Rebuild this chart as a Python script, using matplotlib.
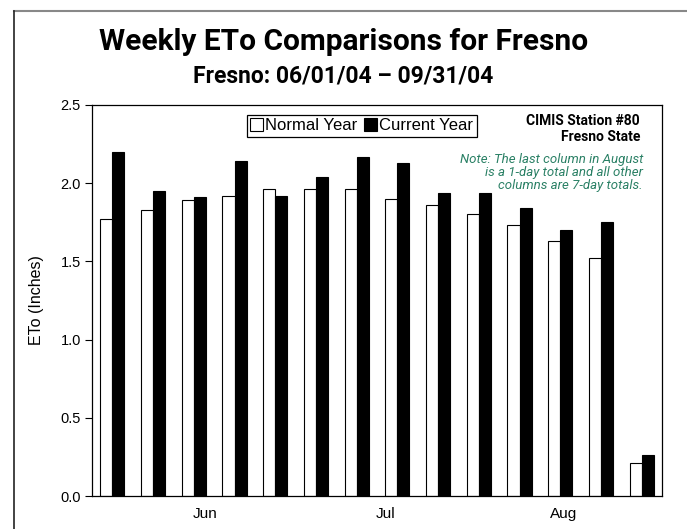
import matplotlib
matplotlib.use("Agg")
import matplotlib.pyplot as plt
import numpy as np
from matplotlib.lines import Line2D
from matplotlib.patches import Patch

# weekly ETo totals (inches), 06/01/04 onward; last column is a 1-day total
normal_year = [1.77, 1.83, 1.89, 1.92, 1.96, 1.96, 1.96, 1.90, 1.86, 1.80, 1.73, 1.63, 1.52, 0.21]
current_year = [2.20, 1.95, 1.91, 2.14, 1.92, 2.04, 2.17, 2.13, 1.94, 1.94, 1.84, 1.70, 1.75, 0.26]
month_labels = ["Jun", "Jul", "Aug"]
month_pos = [2.28, 6.71, 11.09]

cond = ["Roboto", "DejaVu Sans"]
plt.rcParams["font.family"] = ["Liberation Sans", "DejaVu Sans"]

fig = plt.figure(figsize=(6.87, 5.29), dpi=100)
ax = fig.add_axes([92 / 687, 1 - 496 / 529, 570 / 687, 391 / 529])

x = np.arange(len(normal_year))
w = 0.295
ax.bar(x - w / 2, normal_year, w, color="white", edgecolor="black", linewidth=0.8)
ax.bar(x + w / 2, current_year, w, color="black", edgecolor="black", linewidth=0.8)

ax.set_xlim(-0.5, len(normal_year) - 0.5)
ax.set_ylim(0, 2.5)
ax.set_yticks([0, 0.5, 1.0, 1.5, 2.0, 2.5])
ax.set_yticklabels(["0.0", "0.5", "1.0", "1.5", "2.0", "2.5"], fontsize=10.5)
ax.set_xticks(month_pos)
ax.set_xticklabels(month_labels, fontsize=11)
ax.tick_params(axis="x", length=0, pad=8)
ax.tick_params(axis="y", length=5, direction="out", pad=3)
ax.set_ylabel("ETo (Inches)", fontsize=11.5, labelpad=12)
for s in ax.spines.values():
    s.set_linewidth(0.9)

# outer frame
fig.add_artist(Line2D([14 / 687, 1], [1 - 11 / 529] * 2, color="#888888", lw=1.5))
fig.add_artist(Line2D([14 / 687] * 2, [0, 1 - 11 / 529], color="#222222", lw=1.2))

fig.text(0.5, 1 - 42 / 529, "Weekly ETo Comparisons for Fresno", ha="center", va="center",
         fontsize=21.5, fontweight="bold", family=cond)
fig.text(0.5, 1 - 76 / 529, "Fresno: 06/01/04 \u2013 09/31/04", ha="center", va="center",
         fontsize=16.5, fontweight="bold", family=cond)

handles = [Patch(facecolor="white", edgecolor="black", linewidth=0.8),
           Patch(facecolor="black", edgecolor="black", linewidth=0.8)]
leg = fig.legend(handles, ["Normal Year", "Current Year"], loc="upper left",
                 bbox_to_anchor=(247 / 687, 1 - 115 / 529), borderaxespad=0, ncol=2,
                 fontsize=12, handlelength=0.75, handleheight=0.75, handletextpad=0.15,
                 columnspacing=0.4, borderpad=0.2, fancybox=False, framealpha=1,
                 edgecolor="black")
leg.get_frame().set_linewidth(0.9)

fig.text(640 / 687, 1 - 121 / 529, "CIMIS Station #80", ha="right", va="center",
         fontsize=10, fontweight="bold", family=cond)
fig.text(640 / 687, 1 - 137 / 529, "Fresno State", ha="right", va="center",
         fontsize=10, fontweight="bold", family=cond)
note = ["Note: The last column in August", "is a 1-day total and all other",
        "columns are 7-day totals."]
for i, line in enumerate(note):
    fig.text(643 / 687, 1 - (159 + 13.5 * i) / 529, line, ha="right", va="center",
             fontsize=9.5, style="italic", color="#2a8065", family=cond)

fig.savefig("out.png", dpi=100)
